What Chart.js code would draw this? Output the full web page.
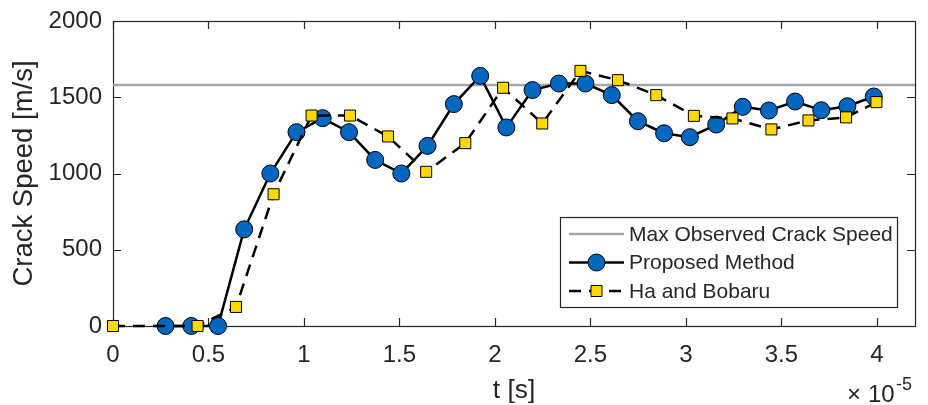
<!DOCTYPE html>
<html>
<head>
<meta charset="utf-8">
<script src="https://cdn.jsdelivr.net/npm/chart.js@4/dist/chart.umd.min.js"></script>
<style>
  html, body { margin: 0; padding: 0; background: #fff; }
  #c { display: block; }
</style>
</head>
<body>
<canvas id="c" width="928" height="405"></canvas>
<script>
// Time values are in units of 1e-5 s (the axis shows a x10^-5 multiplier).
const tProposed = [0.275, 0.41, 0.55, 0.687, 0.824, 0.961, 1.098, 1.236, 1.373, 1.51,
  1.647, 1.785, 1.923, 2.06, 2.197, 2.335, 2.474, 2.612, 2.749, 2.886,
  3.021, 3.159, 3.298, 3.435, 3.572, 3.709, 3.846, 3.984];
const vProposed = [0, 0, 0, 634, 1000, 1271, 1363, 1271, 1089, 1000,
  1181, 1455, 1640, 1302, 1547, 1590, 1590, 1514, 1343, 1264,
  1238, 1321, 1437, 1413, 1472, 1415, 1441, 1505];

const tHa = [0, 0.443, 0.644, 0.841, 1.04, 1.241, 1.44, 1.64, 1.845, 2.043,
  2.248, 2.448, 2.644, 2.845, 3.042, 3.244, 3.448, 3.642, 3.839, 3.998];
const vHa = [0, 0, 125, 864, 1380, 1380, 1243, 1011, 1199, 1562,
  1328, 1673, 1612, 1514, 1378, 1361, 1289, 1348, 1368, 1468];

const tMaxLine = [0, 4.2];
const maxObserved = 1580;

const labels = ['Max Observed Crack Speed', 'Proposed Method', 'Ha and Bobaru'];

const FONT = "'Liberation Sans', Arial, Helvetica, sans-serif";
const INK = '#262626';
const BLUE = '#0067c0';
const YELLOW = '#ffd800';
const GREY = '#a6a6a6';

const pts = (xs, ys) => xs.map((x, i) => ({ x, y: ys[i] }));

// MATLAB-style box with ticks pointing inwards on all four sides.
const boxPlugin = {
  id: 'box',
  beforeDatasetsDraw(chart) {
    const { ctx, chartArea: a, scales: { x, y } } = chart;
    ctx.save();
    ctx.strokeStyle = INK;
    ctx.lineWidth = 1.2;
    ctx.beginPath();
    const L = 8;
    x.ticks.forEach(t => {
      const px = Math.round(x.getPixelForValue(t.value)) + 0.5;
      ctx.moveTo(px, a.bottom); ctx.lineTo(px, a.bottom - L);
      ctx.moveTo(px, a.top); ctx.lineTo(px, a.top + L);
    });
    y.ticks.forEach(t => {
      const py = Math.round(y.getPixelForValue(t.value)) + 0.5;
      ctx.moveTo(a.left, py); ctx.lineTo(a.left + L, py);
      ctx.moveTo(a.right, py); ctx.lineTo(a.right - L, py);
    });
    ctx.stroke();
    ctx.strokeRect(a.left + 0.5, a.top + 0.5, a.right - a.left, a.bottom - a.top);
    ctx.restore();
  },
  afterDraw(chart) {
    const { ctx } = chart;
    const ds = chart.data.datasets;
    ctx.save();
    // exponent label under the right end of the x axis
    ctx.fillStyle = INK;
    ctx.textBaseline = 'alphabetic';
    ctx.textAlign = 'left';
    ctx.font = `24px ${FONT}`;
    ctx.fillText('\u00d7', 847, 402);
    ctx.fillText('10', 868, 402);
    ctx.font = `18px ${FONT}`;
    ctx.fillText('-5', 896, 390);

    // legend box
    const bx = 560, by = 217, bw = 337, bh = 90;
    ctx.fillStyle = '#fff';
    ctx.fillRect(bx, by, bw, bh);
    ctx.strokeStyle = INK;
    ctx.lineWidth = 1.2;
    ctx.strokeRect(bx + 0.5, by + 0.5, bw, bh);
    const rows = [234, 262.5, 291];
    ds.forEach((d, i) => {
      const yy = rows[i];
      ctx.save();
      ctx.strokeStyle = d.borderColor;
      ctx.lineWidth = d.borderWidth;
      ctx.setLineDash(d.borderDash || []);
      ctx.beginPath();
      ctx.moveTo(569, yy); ctx.lineTo(624, yy);
      ctx.stroke();
      ctx.restore();
      if (d.pointRadius > 0) {
        ctx.save();
        ctx.fillStyle = d.pointBackgroundColor;
        ctx.strokeStyle = d.pointBorderColor;
        ctx.lineWidth = d.pointBorderWidth;
        Chart.helpers.drawPoint(ctx, { pointStyle: d.pointStyle, radius: d.pointRadius, rotation: 0, borderWidth: d.pointBorderWidth }, 596.5, yy);
        ctx.restore();
      }
      ctx.fillStyle = INK;
      ctx.font = `21px ${FONT}`;
      ctx.textBaseline = 'middle';
      ctx.fillText(d.label, 629, yy + 1);
    });
    ctx.restore();
  }
};

new Chart(document.getElementById('c'), {
  type: 'scatter',
  data: {
    datasets: [
      {
        label: labels[0], data: pts(tMaxLine, tMaxLine.map(() => maxObserved)),
        showLine: true, borderColor: GREY, borderWidth: 2.5, pointRadius: 0, order: 3, clip: false,
      },
      {
        label: labels[1], data: pts(tProposed, vProposed),
        showLine: true, borderColor: '#000', borderWidth: 2.5,
        pointStyle: 'circle', pointRadius: 8.5, pointBackgroundColor: BLUE,
        pointBorderColor: '#000', pointBorderWidth: 1, order: 2, clip: false,
      },
      {
        label: labels[2], data: pts(tHa, vHa),
        showLine: true, borderColor: '#000', borderWidth: 2.5, borderDash: [12, 8],
        pointStyle: 'rect', pointRadius: 7.8, pointBackgroundColor: YELLOW,
        pointBorderColor: '#000', pointBorderWidth: 1, order: 1, clip: false,
      },
    ],
  },
  options: {
    responsive: false,
    devicePixelRatio: 1,
    animation: false,
    layout: { padding: { left: 0, right: 13, top: 21, bottom: 0 } },
    plugins: { legend: { display: false }, tooltip: { enabled: false } },
    scales: {
      x: {
        type: 'linear', min: 0, max: 4.2,
        // fixed box sizes so the plot area lands where the original's does
        afterFit: s => { s.height = 79; s.paddingLeft = 0; s.paddingRight = 0; },
        grid: { display: false, drawTicks: false },
        border: { display: false },
        ticks: { stepSize: 0.5, includeBounds: false, padding: 15, color: INK, font: { family: FONT, size: 24 },
          callback: v => String(v) },
        title: { display: true, text: 't [s]', color: INK, font: { family: FONT, size: 26.4, lineHeight: 1 }, padding: { top: 0, bottom: 1 } },
      },
      y: {
        type: 'linear', min: 0, max: 2000,
        afterFit: s => { s.width = 113; s.paddingTop = 0; s.paddingBottom = 0; },
        grid: { display: false, drawTicks: false },
        border: { display: false },
        ticks: { stepSize: 500, padding: 11, color: INK, font: { family: FONT, size: 24 },
          callback: v => String(v) },
        title: { display: true, text: 'Crack Speed [m/s]', color: INK, font: { family: FONT, size: 27.5, lineHeight: 1 }, padding: { top: 11, bottom: 0 } },
      },
    },
  },
  plugins: [boxPlugin],
});
</script>
</body>
</html>
